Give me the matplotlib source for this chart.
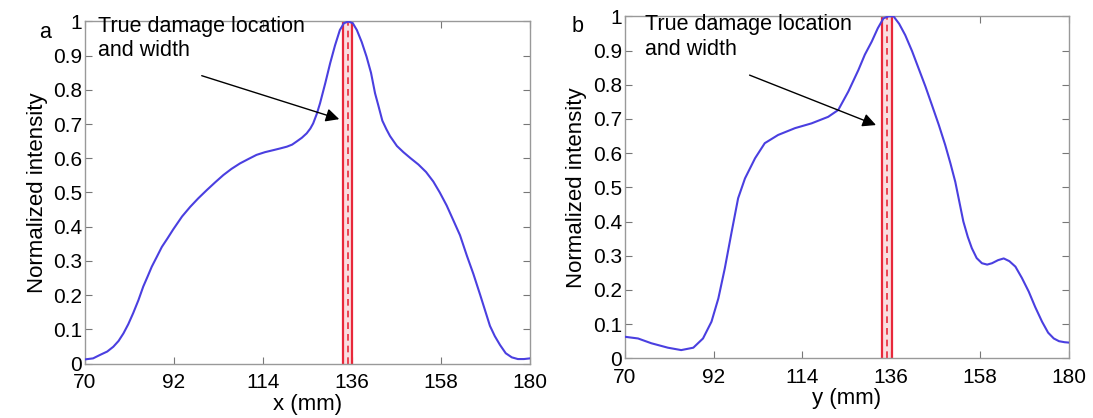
import matplotlib
matplotlib.use("Agg")
import matplotlib.pyplot as plt

plt.rcParams['font.family'] = ['Liberation Sans', 'DejaVu Sans']

# Panel a data (x position in mm, normalized intensity)
x_a = [70, 72, 73.7, 75.5, 77, 78.3, 79.5, 80.7, 81.9, 83.2, 84.4, 85.5, 86.5, 87.8, 89,
       90.4, 91.8, 94, 96, 98, 100.1, 102.2, 104.2, 106.2, 108.3, 110.4, 112.4, 114.5,
       116.6, 118.3, 119.9, 121.2, 122.3, 123.6, 124.8, 125.7, 126.4, 127.3, 128.1, 129.4,
       130.6, 131.8, 133, 134, 135.1, 136.2, 137.2, 138.4, 139.6, 140.7, 141.7, 142.5,
       143.5, 144.5, 145.4, 147.1, 148.7, 150.5, 152.4, 154.3, 156.1, 157.7, 159.4, 161,
       162.7, 164.4, 166, 167.7, 169.3, 170.1, 171.3, 172.6, 174, 175.5, 177, 178.5, 180]
y_a = [0.012, 0.015, 0.025, 0.035, 0.049, 0.066, 0.088, 0.115, 0.147, 0.185, 0.225, 0.255,
       0.283, 0.313, 0.341, 0.366, 0.392, 0.430, 0.458, 0.483, 0.507, 0.530, 0.551, 0.569,
       0.585, 0.598, 0.610, 0.618, 0.624, 0.629, 0.634, 0.640, 0.649, 0.660, 0.673, 0.687,
       0.702, 0.730, 0.761, 0.820, 0.878, 0.930, 0.975, 0.995, 1.000, 0.995, 0.975, 0.940,
       0.897, 0.850, 0.790, 0.755, 0.710, 0.685, 0.665, 0.636, 0.618, 0.600, 0.582, 0.560,
       0.532, 0.500, 0.462, 0.420, 0.375, 0.315, 0.262, 0.200, 0.140, 0.110, 0.080, 0.054,
       0.030, 0.018, 0.013, 0.013, 0.015]

# Panel b data (y position in mm, normalized intensity)
x_b = [70, 73.3, 76.6, 80.7, 84, 87, 89.4, 91.5, 93.2, 94.8, 96.5, 98.1, 99.8, 102.3, 104.7,
       108, 112.2, 116.3, 120.4, 122.9, 125.4, 127.9, 129.5, 131.2, 132.7, 134.1, 135.4,
       136.6, 138, 139.5, 141.2, 142.8, 144.5, 146.1, 147.8, 149.4, 150.7, 151.9, 152.9,
       153.9, 155, 156, 157.2, 158.5, 159.8, 161, 162.5, 163.9, 165.3, 166.8, 168.4, 170.1,
       171.7, 173.4, 174.9, 176.3, 177.6, 179, 180]
y_b = [0.063, 0.058, 0.044, 0.031, 0.024, 0.031, 0.058, 0.107, 0.175, 0.263, 0.370, 0.468,
       0.526, 0.585, 0.629, 0.653, 0.673, 0.687, 0.706, 0.726, 0.780, 0.843, 0.888, 0.926,
       0.965, 0.994, 1.000, 1.000, 0.978, 0.945, 0.898, 0.848, 0.795, 0.741, 0.683, 0.624,
       0.570, 0.516, 0.458, 0.400, 0.355, 0.322, 0.293, 0.278, 0.274, 0.278, 0.287, 0.292,
       0.284, 0.268, 0.235, 0.195, 0.150, 0.107, 0.075, 0.058, 0.050, 0.047, 0.046]

# True damage location and width (mm)
damage_lo = 133.8
damage_hi = 136.1
damage_mid = 134.95

xticks = [70, 92, 114, 136, 158, 180]
yticks = [0, 0.1, 0.2, 0.3, 0.4, 0.5, 0.6, 0.7, 0.8, 0.9, 1]
ytick_labels = ['0', '0.1', '0.2', '0.3', '0.4', '0.5', '0.6', '0.7', '0.8', '0.9', '1']
annot_text = 'True damage location\nand width'

fig = plt.figure(figsize=(10.93, 4.18), dpi=100)
ax_a = fig.add_axes([85 / 1093, 1 - 363.5 / 418, 445 / 1093, 342 / 418])
ax_b = fig.add_axes([624.7 / 1093, 1 - 358.3 / 418, 444 / 1093, 342 / 418])

blue = '#4a3fe0'
red = '#e8283a'
fs_tick = 15
fs_label = 16
fs_annot = 15.5

def style(ax, xlabel):
    ax.set_xlim(70, 180)
    ax.set_ylim(0, 1)
    ax.set_xticks(xticks)
    ax.set_yticks(yticks)
    ax.set_yticklabels(ytick_labels)
    ax.tick_params(direction='in', top=True, right=True, labelsize=fs_tick, length=5,
                   color='#777777')
    ax.tick_params(axis='x', pad=7)
    ax.tick_params(axis='y', pad=2)
    for s in ax.spines.values():
        s.set_color('#999999')
        s.set_linewidth(1)
    ax.set_xlabel(xlabel, fontsize=fs_label, labelpad=1)
    ax.set_ylabel('Normalized intensity', fontsize=fs_label, labelpad=4)

def damage(ax):
    ax.axvspan(damage_lo, damage_hi, color='#f8c8cc', alpha=0.6, lw=0)
    ax.axvline(damage_lo, color=red, lw=1.6)
    ax.axvline(damage_hi, color=red, lw=1.6)
    ax.axvline(damage_mid, color=red, lw=1.2, ls=(0, (4, 3)))

# panel a
ax_a.plot(x_a, y_a, color=blue, lw=1.5, zorder=3)
damage(ax_a)
style(ax_a, 'x (mm)')
ax_a.text(73.2, 0.899, annot_text, fontsize=fs_annot, ha='left', va='baseline',
          linespacing=1.2)
ax_a.annotate('', xy=(133.5, 0.712), xytext=(98.2, 0.844),
              arrowprops=dict(arrowstyle='-|>', color='black', lw=1, mutation_scale=20))
fig.text(45 / 1093, 1 - 38 / 418, 'a', fontsize=fs_annot, ha='center', va='baseline')

# panel b
ax_b.plot(x_b, y_b, color=blue, lw=1.5, zorder=3)
damage(ax_b)
style(ax_b, 'y (mm)')
ax_b.text(75.0, 0.888, annot_text, fontsize=fs_annot, ha='left', va='baseline',
          linespacing=1.2)
ax_b.annotate('', xy=(132.9, 0.679), xytext=(100.3, 0.831),
              arrowprops=dict(arrowstyle='-|>', color='black', lw=1, mutation_scale=20))
fig.text(578 / 1093, 1 - 32 / 418, 'b', fontsize=fs_annot, ha='center', va='baseline')

fig.savefig('out.png', dpi=100)
